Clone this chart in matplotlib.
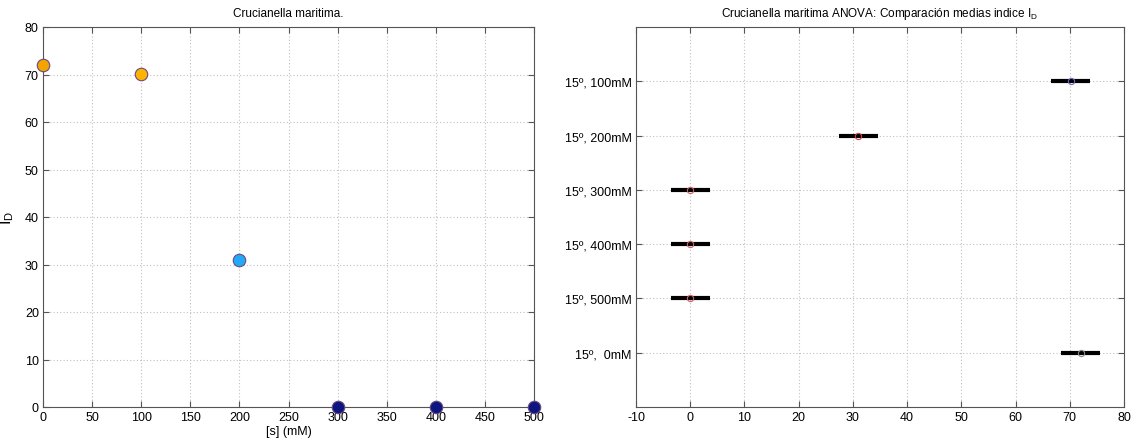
import matplotlib
matplotlib.use("Agg")
import matplotlib.pyplot as plt

# Left panel data
salt_mM = [0, 100, 200, 300, 400, 500]
id_values = [72.0, 70.2, 31.0, 0.0, 0.0, 0.0]
point_colors = ["#F2A400", "#FDB400", "#22AAF8", "#0D1680", "#0D1680", "#0D1680"]

# Right panel data (ANOVA multiple comparison)
groups = ["15º,  0mM", "15º, 500mM", "15º, 400mM", "15º, 300mM", "15º, 200mM", "15º, 100mM"]
group_means = [72.0, 0.0, 0.0, 0.0, 31.0, 70.2]
group_halfwidth = [3.6, 3.6, 3.6, 3.6, 3.6, 3.6]
marker_colors = ["#888888", "#D06060", "#D06060", "#D06060", "#D04040", "#6A6AC8"]

plt.rcParams["font.family"] = ["Liberation Sans", "DejaVu Sans"]
plt.rcParams["axes.unicode_minus"] = False
fig = plt.figure(figsize=(11.32, 4.39), dpi=100)

W, H = 1132, 439
ax1 = fig.add_axes([43 / W, 1 - 408 / H, (534 - 43) / W, (408 - 28) / H])
ax2 = fig.add_axes([636 / W, 1 - 408 / H, (1124 - 636) / W, (408 - 28) / H])

axis_color = "#555555"
grid_kw = dict(color="#c0c0c0", linestyle=(0, (1, 2)), linewidth=0.8)

# Left
for x, y, c in zip(salt_mM, id_values, point_colors):
    ax1.plot(x, y, "o", markersize=9, markerfacecolor=c, markeredgecolor="#6A4A80",
             markeredgewidth=0.8, clip_on=False, zorder=5)
ax1.set_xlim(0, 500)
ax1.set_ylim(0, 80)
ax1.set_xticks(range(0, 501, 50))
ax1.set_yticks(range(0, 81, 10))
ax1.grid(True, **grid_kw)
ax1.set_title("Crucianella maritima.", fontsize=8.5, pad=8)
ax1.set_xlabel("[s] (mM)", fontsize=9, labelpad=1)
ax1.set_ylabel("I$_\\mathregular{D}$", fontsize=11.5, labelpad=6)

# Right
ypos = list(range(1, len(groups) + 1))
for yp, m, hw, mc in zip(ypos, group_means, group_halfwidth, marker_colors):
    ax2.plot([m - hw, m + hw], [yp, yp], color="black", linewidth=3, solid_capstyle="butt", zorder=4)
    ax2.plot(m, yp, "o", markersize=4.5, markerfacecolor="none", markeredgecolor=mc,
             markeredgewidth=0.8, zorder=5)
ax2.set_xlim(-10, 80)
ax2.set_ylim(0, 7)
ax2.set_xticks(range(-10, 81, 10))
ax2.set_yticks(ypos)
ax2.set_yticklabels(groups)
ax2.grid(True, **grid_kw)
ax2.set_title("Crucianella maritima ANOVA: Comparación medias indice I$_\\mathregular{D}$",
              fontsize=8.5, pad=8)

for ax in (ax1, ax2):
    for s in ax.spines.values():
        s.set_color(axis_color)
        s.set_linewidth(0.8)
    ax.tick_params(labelsize=9, length=4, width=0.8, color=axis_color, direction="in",
                   top=True, right=True, pad=3)

fig.savefig("out.png", dpi=100)
